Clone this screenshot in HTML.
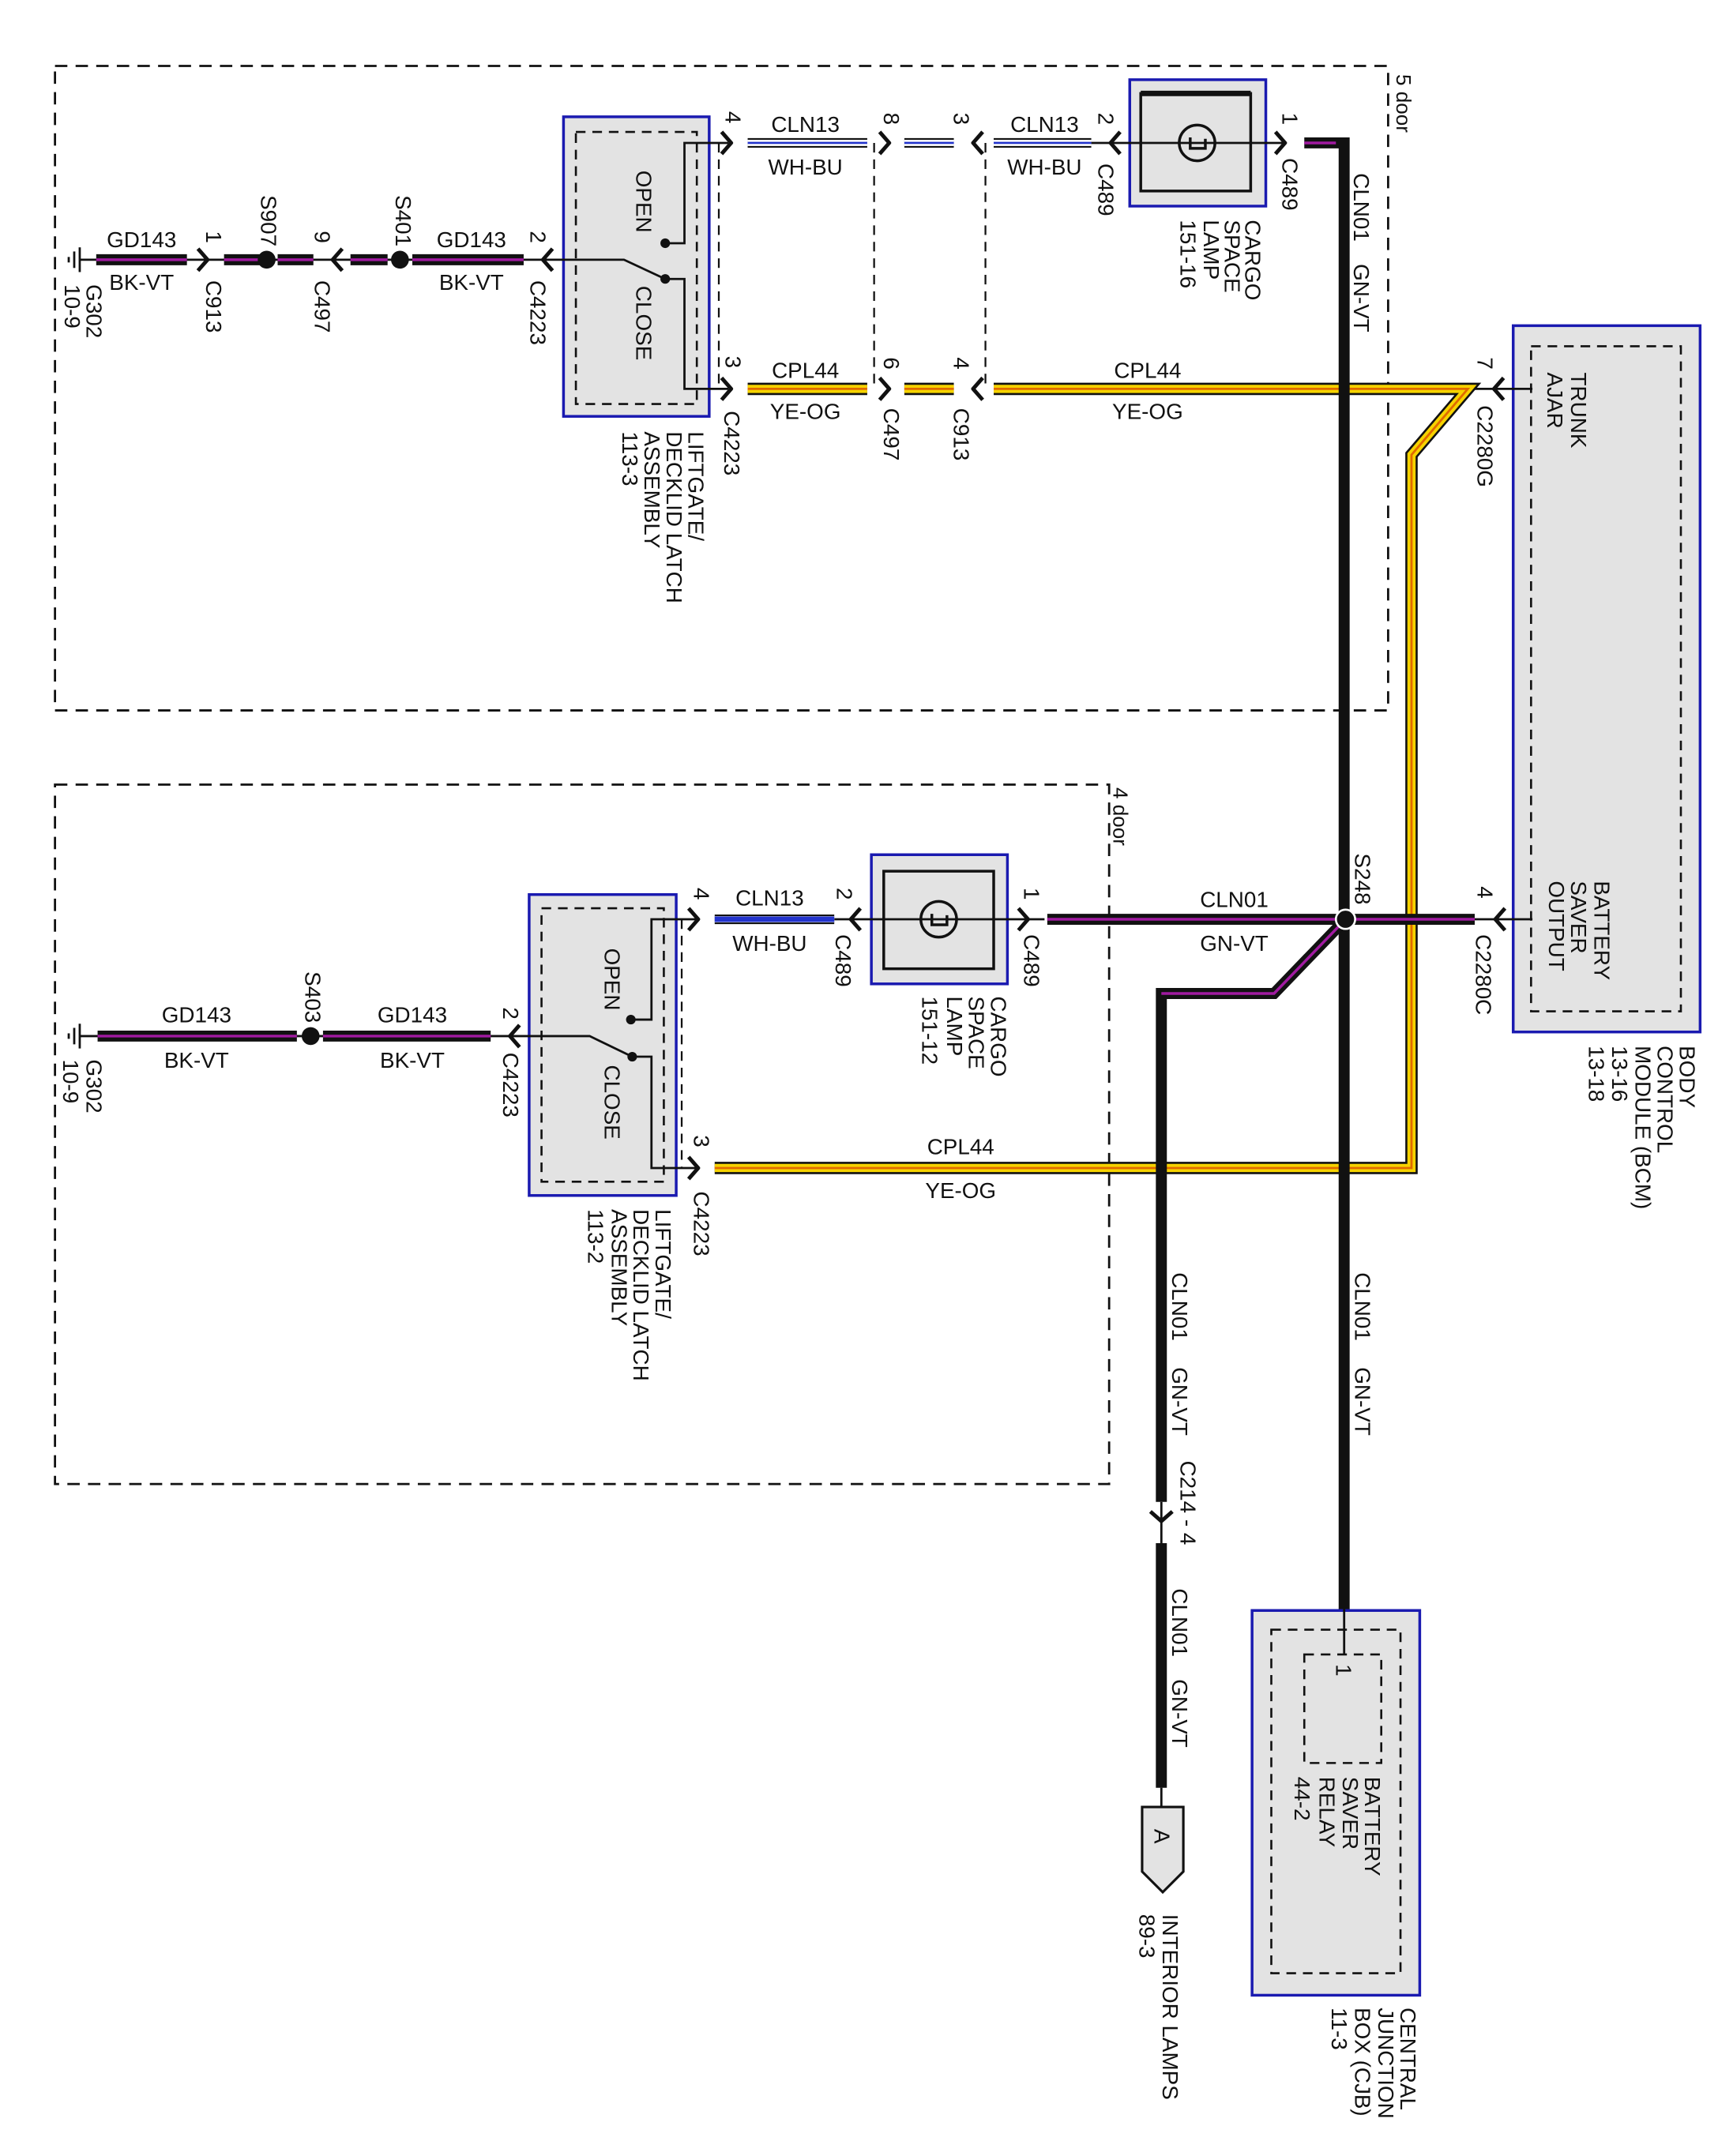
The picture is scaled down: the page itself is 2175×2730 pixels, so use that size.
<!DOCTYPE html>
<html><head><meta charset="utf-8"><style>
html,body{margin:0;padding:0;background:#fff}
svg{display:block}
text{font-family:"Liberation Sans",sans-serif;font-size:16px;fill:#111}
</style></head><body>
<svg width="2175" height="2730" viewBox="0 0 1250 1569" xmlns="http://www.w3.org/2000/svg">
<rect width="1250" height="1569" fill="#fff"/>
<rect x="40" y="48" width="970" height="469" fill="none" stroke="#111" stroke-width="1.6" stroke-dasharray="9 6"/>
<rect x="40" y="571" width="767" height="509" fill="none" stroke="#111" stroke-width="1.6" stroke-dasharray="9 6"/>

<g stroke="#1a1ab0" stroke-width="2" fill="#e3e3e3">
<rect x="410" y="85" width="106" height="218"/>
<rect x="822" y="58" width="99" height="92"/>
<rect x="1101" y="237" width="136" height="514"/>
<rect x="385" y="651" width="107" height="219"/>
<rect x="634" y="622" width="99" height="94"/>
<rect x="911" y="1172" width="122" height="280"/>
</g>
<g fill="none" stroke="#111" stroke-width="1.5" stroke-dasharray="7 5">
<rect x="419" y="96" width="88" height="198"/>
<rect x="1114" y="252" width="109" height="484"/>
<rect x="394" y="661" width="89" height="199"/>
<rect x="925" y="1186" width="94" height="250"/>
<rect x="949" y="1204" width="56" height="79"/>
</g>
<g fill="none" stroke="#111" stroke-width="2">
<rect x="830" y="68" width="80" height="71"/>
<rect x="643" y="634" width="80" height="71"/>
</g>
<line x1="830" y1="68" x2="910" y2="68" stroke="#111" stroke-width="4"/>
<g fill="none" stroke="#111" stroke-width="2">
<circle cx="871" cy="104" r="13"/>
<circle cx="683" cy="669" r="13"/>
<path d="M866 100 V108 H877 V101"/>
<path d="M678 665 V673 H689 V666"/>
</g>

<g stroke="#111" stroke-width="1.6" fill="none">
<path d="M58 189 H454 L484 203"/>
<path d="M484 177 H498 V104 H530"/>
<path d="M484 203 H498 V283 H530"/>
<path d="M794 104 H935"/>
<path d="M1070 283 H1115"/>
<path d="M1073 669 H1115"/>
<path d="M58 754 H429 L460 769"/>
<path d="M459 742 H474 V669 H507"/>
<path d="M460 769 H474 V850 H507"/>
<path d="M607 669 H760"/>
<path d="M845 1093 V1123"/>
<path d="M845 1301 V1316"/>
<path d="M978 1171 V1204"/>
</g>
<g fill="#111">
<circle cx="484" cy="177" r="3.5"/><circle cx="484" cy="203" r="3.5"/>
<circle cx="459" cy="742" r="3.5"/><circle cx="460" cy="769" r="3.5"/>
</g>
<g stroke="#111" stroke-width="1.3" stroke-dasharray="7 5" fill="none">
<path d="M523 104 V283"/><path d="M636 104 V283"/><path d="M717 104 V283"/>
<path d="M496 669 V850"/>
</g>

<g stroke="#111" stroke-width="1.6">
<line x1="58" y1="180" x2="58" y2="198"/><line x1="54" y1="183" x2="54" y2="195"/><line x1="50" y1="187" x2="50" y2="191"/>
<line x1="58" y1="745" x2="58" y2="763"/><line x1="54" y1="748" x2="54" y2="760"/><line x1="50" y1="752" x2="50" y2="756"/>
</g>

<!-- YE-OG -->
<g fill="none">
<path d="M544 283 H631 M658 283 H694 M723 283 H1068 L1027 331 V850 H520" stroke="#111" stroke-width="9"/>
<path d="M544 283 H631 M658 283 H694 M723 283 H1068 L1027 331 V850 H520" stroke="#f6d300" stroke-width="6"/>
<path d="M544 283 H631 M658 283 H694 M723 283 H1068 L1027 331 V850 H520" stroke="#e06a00" stroke-width="1.6"/>
</g>

<g fill="none" stroke="#111" stroke-width="8">
<path d="M70 189 H136 M163 189 H190 M202 189 H228 M255 189 H282 M300 189 H381"/>
<path d="M71 754 H216 M235 754 H357"/>
<path d="M949 104 H978 V1171"/>
<path d="M762 669 H1073"/>
<path d="M979 669 L927 723 H845 V1093"/>
<path d="M845 1123 V1301"/>
</g>
<g fill="none" stroke="#a01aa0" stroke-width="2">
<path d="M70 189 H136 M163 189 H190 M202 189 H228 M255 189 H282 M300 189 H381"/>
<path d="M71 754 H216 M235 754 H357"/>
<path d="M762 669 H1073"/>
<path d="M979 669 L927 723 H845"/>
<path d="M949 104 H972"/>
</g>
<g fill="none">
<path d="M544 104 H631 M658 104 H694 M723 104 H794 M520 669 H607" stroke="#111" stroke-width="7"/>
<path d="M544 104 H631 M658 104 H694 M723 104 H794 M520 669 H607" stroke="#fff" stroke-width="4.5"/>
<path d="M544 104 H631 M658 104 H694 M723 104 H794" stroke="#2233cc" stroke-width="1.5"/>
<path d="M520 669 H607" stroke="#2233cc" stroke-width="4"/>
</g>

<g fill="#111">
<circle cx="194" cy="189" r="6.5"/><circle cx="291" cy="189" r="6.5"/>
<circle cx="226" cy="754" r="6.5"/>
<circle cx="979" cy="669" r="7" stroke="#fff" stroke-width="1.5"/>
</g>

<g fill="none" stroke="#111" stroke-width="2.8" stroke-linejoin="round">
<path d="M144 181 L151 189 L144 197"/>
<path d="M525 96 L532 104 L525 112"/>
<path d="M525 275 L532 283 L525 291"/>
<path d="M640 96 L647 104 L640 112"/>
<path d="M640 275 L647 283 L640 291"/>
<path d="M928 96 L935 104 L928 112"/>
<path d="M501 661 L508 669 L501 677"/>
<path d="M501 842 L508 850 L501 858"/>
<path d="M741 661 L748 669 L741 677"/>
<path d="M249 181 L242 189 L249 197"/>
<path d="M402 181 L395 189 L402 197"/>
<path d="M715 96 L708 104 L715 112"/>
<path d="M715 275 L708 283 L715 291"/>
<path d="M815 96 L808 104 L815 112"/>
<path d="M1094 275 L1087 283 L1094 291"/>
<path d="M378 746 L371 754 L378 762"/>
<path d="M626 661 L619 669 L626 677"/>
<path d="M1095 661 L1088 669 L1095 677"/>
<path d="M837 1100 L845 1107 L853 1100"/>
</g>

<path d="M831 1315 H861 V1362 L846 1377 L831 1362 Z" fill="#e3e3e3" stroke="#111" stroke-width="1.8"/>

<g text-anchor="middle">
<text x="103" y="180">GD143</text><text x="103" y="211">BK-VT</text>
<text x="343" y="180">GD143</text><text x="343" y="211">BK-VT</text>
<text x="586" y="96">CLN13</text><text x="586" y="127">WH-BU</text>
<text x="760" y="96">CLN13</text><text x="760" y="127">WH-BU</text>
<text x="586" y="275">CPL44</text><text x="586" y="305">YE-OG</text>
<text x="835" y="275">CPL44</text><text x="835" y="305">YE-OG</text>
<text x="143" y="744">GD143</text><text x="143" y="777">BK-VT</text>
<text x="300" y="744">GD143</text><text x="300" y="777">BK-VT</text>
<text x="560" y="659">CLN13</text><text x="560" y="692">WH-BU</text>
<text x="898" y="660">CLN01</text><text x="898" y="692">GN-VT</text>
<text x="699" y="840">CPL44</text><text x="699" y="872">YE-OG</text>
</g>

<g>
<text transform="translate(63,207) rotate(90)">G302</text>
<text transform="translate(47,207) rotate(90)">10-9</text>
<text transform="translate(150,168) rotate(90)">1</text>
<text transform="translate(150,204) rotate(90)">C913</text>
<text transform="translate(229,168) rotate(90)">9</text>
<text transform="translate(229,204) rotate(90)">C497</text>
<text transform="translate(190,142) rotate(90)">S907</text>
<text transform="translate(288,142) rotate(90)">S401</text>
<text transform="translate(386,168) rotate(90)">2</text>
<text transform="translate(386,204) rotate(90)">C4223</text>
<text transform="translate(463,124) rotate(90)">OPEN</text>
<text transform="translate(463,208) rotate(90)">CLOSE</text>
<text transform="translate(501,314) rotate(90)">LIFTGATE/</text>
<text transform="translate(485,314) rotate(90)">DECKLID LATCH</text>
<text transform="translate(469,314) rotate(90)">ASSEMBLY</text>
<text transform="translate(453,314) rotate(90)">113-3</text>
<text transform="translate(528,81) rotate(90)">4</text>
<text transform="translate(528,259) rotate(90)">3</text>
<text transform="translate(527,299) rotate(90)">C4223</text>
<text transform="translate(643,82) rotate(90)">8</text>
<text transform="translate(643,260) rotate(90)">6</text>
<text transform="translate(643,297) rotate(90)">C497</text>
<text transform="translate(694,82) rotate(90)">3</text>
<text transform="translate(694,260) rotate(90)">4</text>
<text transform="translate(694,297) rotate(90)">C913</text>
<text transform="translate(799,82) rotate(90)">2</text>
<text transform="translate(799,119) rotate(90)">C489</text>
<text transform="translate(906,160) rotate(90)">CARGO</text>
<text transform="translate(891,160) rotate(90)">SPACE</text>
<text transform="translate(876,160) rotate(90)">LAMP</text>
<text transform="translate(859,160) rotate(90)">151-16</text>
<text transform="translate(933,82) rotate(90)">1</text>
<text transform="translate(933,115) rotate(90)">C489</text>
<text transform="translate(985,126) rotate(90)">CLN01</text>
<text transform="translate(985,192) rotate(90)">GN-VT</text>
<text transform="translate(1016,54) rotate(90)" style="font-size:15px">5 door</text>
<text transform="translate(1075,260) rotate(90)">7</text>
<text transform="translate(1075,295) rotate(90)">C2280G</text>
<text transform="translate(1143,271) rotate(90)">TRUNK</text>
<text transform="translate(1126,271) rotate(90)">AJAR</text>
<text transform="translate(1160,641) rotate(90)">BATTERY</text>
<text transform="translate(1143,641) rotate(90)">SAVER</text>
<text transform="translate(1127,641) rotate(90)">OUTPUT</text>
<text transform="translate(1222,761) rotate(90)">BODY</text>
<text transform="translate(1206,761) rotate(90)">CONTROL</text>
<text transform="translate(1190,761) rotate(90)">MODULE (BCM)</text>
<text transform="translate(1173,761) rotate(90)">13-16</text>
<text transform="translate(1156,761) rotate(90)">13-18</text>
<text transform="translate(986,621) rotate(90)">S248</text>
<text transform="translate(1075,645) rotate(90)">4</text>
<text transform="translate(1074,680) rotate(90)">C2280C</text>

<text transform="translate(63,771) rotate(90)">G302</text>
<text transform="translate(46,771) rotate(90)">10-9</text>
<text transform="translate(222,707) rotate(90)">S403</text>
<text transform="translate(366,733) rotate(90)">2</text>
<text transform="translate(366,766) rotate(90)">C4223</text>
<text transform="translate(440,690) rotate(90)">OPEN</text>
<text transform="translate(440,775) rotate(90)">CLOSE</text>
<text transform="translate(477,880) rotate(90)">LIFTGATE/</text>
<text transform="translate(461,880) rotate(90)">DECKLID LATCH</text>
<text transform="translate(445,880) rotate(90)">ASSEMBLY</text>
<text transform="translate(428,880) rotate(90)">113-2</text>
<text transform="translate(505,646) rotate(90)">4</text>
<text transform="translate(505,826) rotate(90)">3</text>
<text transform="translate(505,867) rotate(90)">C4223</text>
<text transform="translate(609,646) rotate(90)">2</text>
<text transform="translate(608,680) rotate(90)">C489</text>
<text transform="translate(721,725) rotate(90)">CARGO</text>
<text transform="translate(705,725) rotate(90)">SPACE</text>
<text transform="translate(689,725) rotate(90)">LAMP</text>
<text transform="translate(671,725) rotate(90)">151-12</text>
<text transform="translate(745,646) rotate(90)">1</text>
<text transform="translate(745,680) rotate(90)">C489</text>
<text transform="translate(810,573) rotate(90)" style="font-size:15px">4 door</text>
<text transform="translate(853,926) rotate(90)">CLN01</text>
<text transform="translate(853,995) rotate(90)">GN-VT</text>
<text transform="translate(986,926) rotate(90)">CLN01</text>
<text transform="translate(986,995) rotate(90)">GN-VT</text>
<text transform="translate(859,1063) rotate(90)">C214 - 4</text>
<text transform="translate(853,1156) rotate(90)">CLN01</text>
<text transform="translate(853,1222) rotate(90)">GN-VT</text>
<text transform="translate(840,1331) rotate(90)">A</text>
<text transform="translate(846,1393) rotate(90)">INTERIOR LAMPS</text>
<text transform="translate(829,1393) rotate(90)">89-3</text>
<text transform="translate(972,1211) rotate(90)">1</text>
<text transform="translate(993,1293) rotate(90)">BATTERY</text>
<text transform="translate(977,1293) rotate(90)">SAVER</text>
<text transform="translate(960,1293) rotate(90)">RELAY</text>
<text transform="translate(942,1293) rotate(90)">44-2</text>
<text transform="translate(1019,1461) rotate(90)">CENTRAL</text>
<text transform="translate(1003,1461) rotate(90)">JUNCTION</text>
<text transform="translate(986,1461) rotate(90)">BOX (CJB)</text>
<text transform="translate(969,1461) rotate(90)">11-3</text>
</g>
</svg>
</body></html>
